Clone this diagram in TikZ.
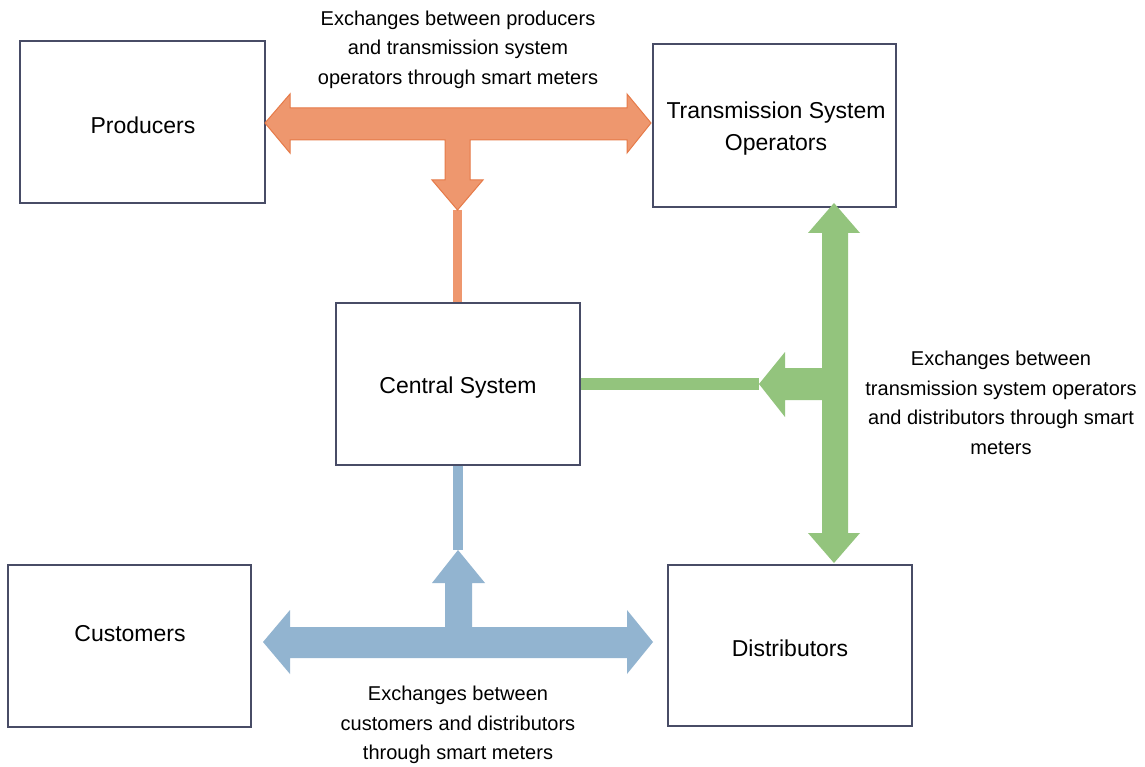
\documentclass[tikz,border=0pt]{standalone}
\usepackage{fontspec}
\setmainfont{Liberation Sans}
\definecolor{boxline}{RGB}{72,76,102}
\definecolor{orfill}{RGB}{238,151,110}
\definecolor{orline}{RGB}{230,122,72}
\definecolor{grfill}{RGB}{147,196,125}
\definecolor{blfill}{RGB}{146,180,208}
\begin{document}
\begin{tikzpicture}[x=1pt,y=-1pt,
  box/.style={draw=boxline,line width=1.3pt,fill=white,rectangle,inner sep=0pt},
  lbl/.style={align=center,font=\fontsize{20}{29.5}\selectfont,inner sep=0pt},
  boxtext/.style={align=center,font=\fontsize{23}{32}\selectfont,inner sep=0pt}]
\useasboundingbox[fill=white] (0,0) rectangle (1145,767);

% boxes
\node[box,minimum width=245pt,minimum height=162pt] (prod) at (142.5,122) {};
\node[box,minimum width=243pt,minimum height=163pt] (tso) at (774.5,125.5) {};
\node[box,minimum width=244pt,minimum height=162pt] (cs) at (458,384) {};
\node[box,minimum width=243pt,minimum height=162pt] (cust) at (129.5,646) {};
\node[box,minimum width=244pt,minimum height=161pt] (dist) at (790,645.5) {};

\node[boxtext] (prodtxt) at (143,125) {Producers};
\node[boxtext] (tsotxt) at (776,128.5) {Transmission System\\Operators};
\node[boxtext] (cstxt) at (458,387.5) {Central System};
\node[boxtext] (custtxt) at (130,634) {Customers};
\node[boxtext] (disttxt) at (790,648.5) {Distributors};

% arrow tip coordinates
\coordinate (otip) at (457.5,210);
\coordinate (gtip) at (759,384);
\coordinate (btip) at (458,550);

% thin connectors
\draw[orfill,line width=9pt] (otip) -- (otip |- cs.north);
\draw[grfill,line width=12pt] (cs.east |- gtip) -- (gtip);
\draw[blfill,line width=10pt] (btip |- cs.south) -- (btip);

% orange block arrow
\filldraw[fill=orfill,draw=orline,line width=1pt,line join=miter]
 (265,123) -- (290,94) -- (290,108) -- (627,108) -- (627,94) -- (651,123)
 -- (627,153) -- (627,140) -- (470,140) -- (470,180) -- (483,180) -- (otip)
 -- (432,180) -- (445,180) -- (445,140) -- (290,140) -- (290,153) -- cycle;

% green block arrow
\fill[grfill]
 (834,203) -- (860,233) -- (848,233) -- (848,533) -- (860,533) -- (834,563)
 -- (808,533) -- (822,533) -- (822,400) -- (785,400) -- (785,417) -- (gtip)
 -- (785,352) -- (785,368) -- (822,368) -- (822,233) -- (808,233) -- cycle;

% blue block arrow
\fill[blfill]
 (263,642) -- (290,610) -- (290,627) -- (445,627) -- (445,583) -- (432,583)
 -- (btip) -- (485,583) -- (472,583) -- (472,627) -- (627,627) -- (627,610)
 -- (653,642) -- (627,674) -- (627,658) -- (290,658) -- (290,674) -- cycle;

% labels
\node[lbl] (ltop) at (458,49.5) {Exchanges between producers\\and transmission system\\operators through smart meters};
\node[lbl] (lright) at (1001,403) {Exchanges between\\transmission system operators\\and distributors through smart\\meters};
\node[lbl] (lbot) at (458,725) {Exchanges between\\customers and distributors\\through smart meters};
\end{tikzpicture}
\end{document}
